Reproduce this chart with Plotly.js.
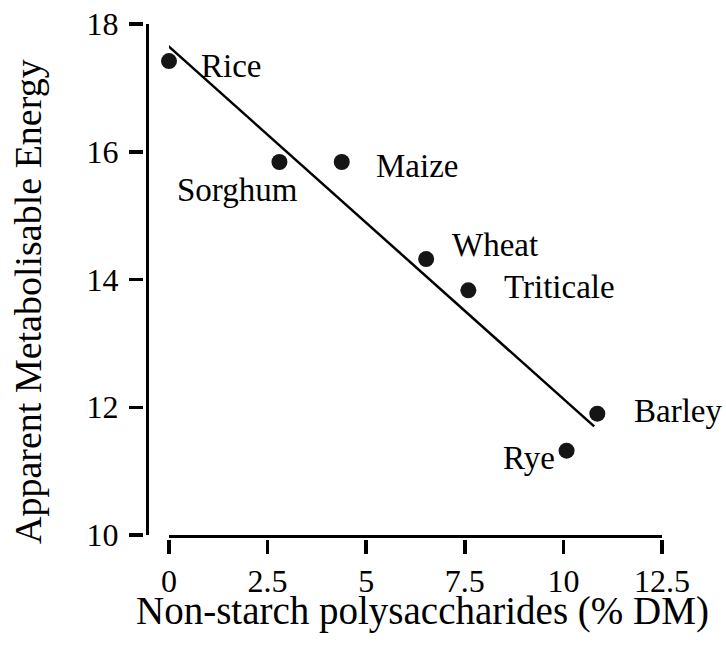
<!DOCTYPE html>
<html>
<head>
<meta charset="utf-8">
<script src="https://cdn.plot.ly/plotly-3.0.1.min.js"></script>
<style>html,body{margin:0;padding:0;background:#fff;}#chart{width:726px;height:645px;}</style>
</head>
<body>
<div id="chart"></div>
<script>
// ---- data ----
const grains = ["Rice", "Sorghum", "Maize", "Wheat", "Triticale", "Barley", "Rye"];
const nsp    = [0.0, 2.8, 4.38, 6.52, 7.59, 10.86, 10.08];      // % DM
const ame    = [17.42, 15.84, 15.84, 14.32, 13.83, 11.90, 11.32]; // AME
const fitX   = [-0.08, 10.78];
const fitY   = [17.69, 11.70];
const xTicks = [0, 2.5, 5, 7.5, 10, 12.5];
const xTickText = ["0", "2.5", "5", "7.5", "10", "12.5"];
const yTicks = [10, 12, 14, 16, 18];
const yTickText = ["10", "12", "14", "16", "18"];
const xTitle = "Non-starch polysaccharides (% DM)";
const yTitle = "Apparent Metabolisable Energy";

// ---- layout helpers (pixel -> paper) ----
const W = 726, H = 645;
const px = v => v / W;
const py = v => 1 - v / H;
const FONT = "Liberation Serif, Times New Roman, serif";

// label placement per grain (style offsets in px)
const labelStyle = {
  Rice:      {xanchor: "left",   xshift: 30,  yshift: -5},
  Sorghum:   {xanchor: "center", xshift: -42, yshift: -28},
  Maize:     {xanchor: "left",   xshift: 32,  yshift: -4},
  Wheat:     {xanchor: "left",   xshift: 24,  yshift: 14},
  Triticale: {xanchor: "left",   xshift: 34,  yshift: 3},
  Barley:    {xanchor: "left",   xshift: 35,  yshift: 3},
  Rye:       {xanchor: "right",  xshift: -10, yshift: -7}
};

const xRange = [0, 12.5];
const yRange = [10, 18];
const xDom = [px(169), px(662)];
const yDom = [py(535), py(24)];

const traces = [
  {
    x: fitX, y: fitY, type: "scatter", mode: "lines",
    xaxis: "x", yaxis: "y",
    line: {color: "#000", width: 2.5},
    hoverinfo: "skip", showlegend: false
  },
  {
    x: nsp, y: ame, type: "scatter", mode: "markers",
    xaxis: "x2", yaxis: "y2",
    marker: {size: 16, color: "#151515", line: {width: 0}},
    cliponaxis: false, showlegend: false
  }
];

const annotations = grains.map((g, i) => Object.assign({
  x: nsp[i], y: ame[i], xref: "x", yref: "y",
  text: g, showarrow: false, yanchor: "middle",
  font: {family: FONT, size: 33, color: "#000"}
}, labelStyle[g]));

annotations.push({
  xref: "paper", yref: "paper", x: px(423), y: py(611),
  xanchor: "center", yanchor: "middle", showarrow: false,
  text: xTitle, font: {family: FONT, size: 39, color: "#000"}
});
annotations.push({
  xref: "paper", yref: "paper", x: px(28), y: py(302),
  xanchor: "center", yanchor: "middle", showarrow: false, textangle: -90,
  text: yTitle, font: {family: FONT, size: 38, color: "#000"}
});

const layout = {
  width: W, height: H,
  margin: {l: 0, r: 0, t: 0, b: 0, pad: 0},
  paper_bgcolor: "#fff", plot_bgcolor: "rgba(0,0,0,0)",
  showlegend: false,
  font: {family: FONT, color: "#000"},
  // axis lines
  xaxis: {
    domain: xDom, range: xRange, anchor: "y",
    showline: true, linecolor: "#000", linewidth: 3,
    showgrid: false, zeroline: false, ticks: "", showticklabels: false,
    automargin: false, fixedrange: true
  },
  yaxis: {
    domain: yDom, range: yRange, anchor: "free", position: px(147),
    showline: true, linecolor: "#000", linewidth: 3,
    showgrid: false, zeroline: false, ticks: "", showticklabels: false,
    automargin: false, fixedrange: true
  },
  // tick axes (offset slightly from the lines)
  xaxis2: {
    domain: xDom, overlaying: "x", range: xRange, anchor: "free", position: py(539),
    showline: false, showgrid: false, zeroline: false,
    ticks: "outside", ticklen: 14, tickwidth: 3.5, tickcolor: "#000",
    tickmode: "array", tickvals: xTicks, ticktext: xTickText,
    tickfont: {family: FONT, size: 32, color: "#000"},
    ticklabelstandoff: 0,
    automargin: false, fixedrange: true
  },
  yaxis2: {
    domain: yDom, overlaying: "y", range: yRange, anchor: "free", position: px(143),
    showline: false, showgrid: false, zeroline: false,
    ticks: "outside", ticklen: 14, tickwidth: 3.5, tickcolor: "#000",
    tickmode: "array", tickvals: yTicks, ticktext: yTickText,
    tickfont: {family: FONT, size: 32, color: "#000"},
    ticklabelstandoff: 4,
    automargin: false, fixedrange: true
  },
  annotations: annotations
};

Plotly.newPlot("chart", traces, layout, {displayModeBar: false, staticPlot: true});
</script>
</body>
</html>
